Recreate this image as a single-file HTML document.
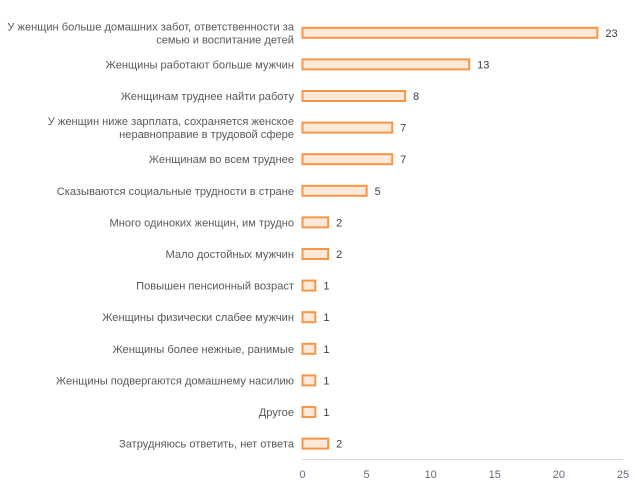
<!DOCTYPE html>
<html><head><meta charset="utf-8"><style>
body{margin:0;background:#fff;}
svg{display:block;font-family:"Liberation Sans","DejaVu Sans",sans-serif;}
</style></head><body>
<svg id="chart" width="637" height="494">
<line x1="302" y1="459.5" x2="623" y2="459.5" stroke="#d9d9d9" stroke-width="1"/>
<g id="bars"></g>
</svg>
<script>
const categories=[["У женщин больше домашних забот, ответственности за","семью и воспитание детей"],["Женщины работают больше мужчин"],["Женщинам труднее найти работу"],["У женщин ниже зарплата, сохраняется женское","неравноправие в трудовой сфере"],["Женщинам во всем труднее"],["Сказываются социальные трудности в стране"],["Много одиноких женщин, им трудно"],["Мало достойных мужчин"],["Повышен пенсионный возраст"],["Женщины физически слабее мужчин"],["Женщины более нежные, ранимые"],["Женщины подвергаются домашнему насилию"],["Другое"],["Затрудняюсь ответить, нет ответа"]];
const values=[23,13,8,7,7,5,2,2,1,1,1,1,1,2];
const ticks=[0,5,10,15,20,25];
const NS="http://www.w3.org/2000/svg";
const svg=document.getElementById('chart');
const g=document.getElementById('bars');
const x=v=>302.5+v*(320.5/25);
const y=i=>32.8+i*31.6;
function mk(t,a){const e=document.createElementNS(NS,t);for(const k in a)e.setAttribute(k,a[k]);return e;}
values.forEach((v,i)=>{
  const r=mk('rect',{x:x(0),y:y(i)-5,width:x(v)-x(0),height:10,fill:'#fde9d9',stroke:'#f79646','stroke-width':2});
  
  
  g.appendChild(r);
  const t=mk('text',{x:x(v)+8,y:y(i)+4,'font-size':11,fill:'#404040'});
  t.textContent=v;
  
  
  g.appendChild(t);
  const lines=categories[i];
  const c=mk('text',{x:294,y:0,'font-size':11.1,fill:'#595959','text-anchor':'end'});
  
  
  lines.forEach((l,j)=>{
    const s=mk('tspan',{x:294,y:y(i)+4+(j-(lines.length-1)/2)*13});
    s.textContent=l;c.appendChild(s);
  });
  g.appendChild(c);
});
ticks.forEach((tv,i)=>{
  const t=mk('text',{x:x(tv),y:478,'font-size':11,fill:'#5b6b7f','text-anchor':'middle'});
  t.textContent=tv;
  
  
  svg.appendChild(t);
});
</script>
</body></html>
